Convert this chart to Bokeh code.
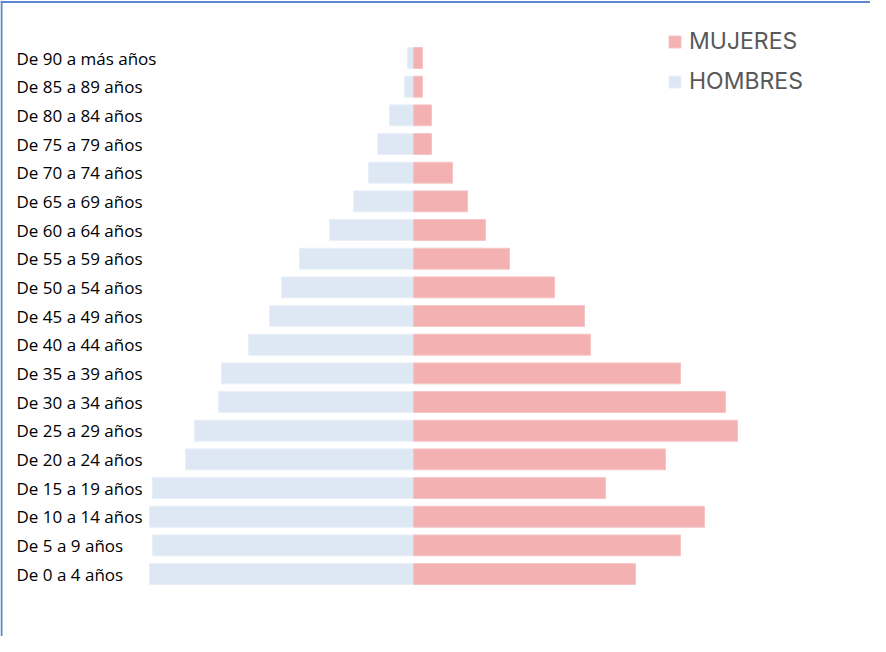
from bokeh.plotting import figure
from bokeh.models import Span, Legend, LegendItem, ColumnDataSource
from bokeh.core.properties import value
from bokeh.embed import file_html
from bokeh.resources import INLINE

# ---- data (bottom row first) ----
age_groups = ["De 0 a 4 años", "De 5 a 9 años", "De 10 a 14 años", "De 15 a 19 años",
              "De 20 a 24 años", "De 25 a 29 años", "De 30 a 34 años", "De 35 a 39 años",
              "De 40 a 44 años", "De 45 a 49 años", "De 50 a 54 años", "De 55 a 59 años",
              "De 60 a 64 años", "De 65 a 69 años", "De 70 a 74 años", "De 75 a 79 años",
              "De 80 a 84 años", "De 85 a 89 años", "De 90 a más años"]
hombres = [88, 87, 88, 87, 76, 73, 65, 64, 55, 48, 44, 38, 28, 20, 15, 12, 8, 3, 2]
mujeres = [74, 89, 97, 64, 84, 108, 104, 89, 59, 57, 47, 32, 24, 18, 13, 6, 6, 3, 3]
series_labels = ["MUJERES", "HOMBRES"]

pos = list(range(len(age_groups)))
src = ColumnDataSource(dict(
    y=pos,
    label=age_groups,
    h_left=[-v for v in hombres],
    m_right=mujeres,
    zero=[0] * len(pos),
))

X0, X1 = -137.667, 152.333
Y0, Y1 = -2.178, 20.006

p = figure(width=870, height=636, x_range=(X0, X1), y_range=(Y0, Y1),
           x_axis_type=None, y_axis_type=None, title=None,
           toolbar_location=None, output_backend="svg", min_border=0)
p.outline_line_color = None
p.background_fill_color = "white"
p.border_fill_color = "white"

bar_h = 0.73
rh = p.hbar(y="y", left="h_left", right="zero", height=bar_h, source=src,
            fill_color="#DEE8F4", line_color="#E8EFF8", line_width=1)
rm = p.hbar(y="y", left="zero", right="m_right", height=bar_h, source=src,
            fill_color="#F4B1B2", line_color="#F7C4C5", line_width=1)

p.text(x=X0 + 16 / 3, y="y", text="label", source=src,
       text_font=value("Open Sans"), text_font_size="17px", text_color="#000000",
       text_align="left", text_baseline="middle")

# frame border (left and top of the chart box)
p.add_layout(Span(location=X0 + 0.33, dimension="height",
                  line_color="#5B87CF", line_width=2))
p.add_layout(Span(location=Y1 - 1.6 / 28.67, dimension="width",
                  line_color="#5B87CF", line_width=2))

legend = Legend(items=[LegendItem(label=series_labels[0], renderers=[rm]),
                       LegendItem(label=series_labels[1], renderers=[rh])],
                location=(667, 541), orientation="vertical",
                border_line_color=None, background_fill_alpha=0,
                glyph_width=15, glyph_height=15, label_standoff=7,
                label_text_font="Inter", label_text_font_size="23px",
                label_text_color="#595959", spacing=12, padding=0, margin=0)
p.add_layout(legend)

open("out.html", "w").write(file_html(p, INLINE))
